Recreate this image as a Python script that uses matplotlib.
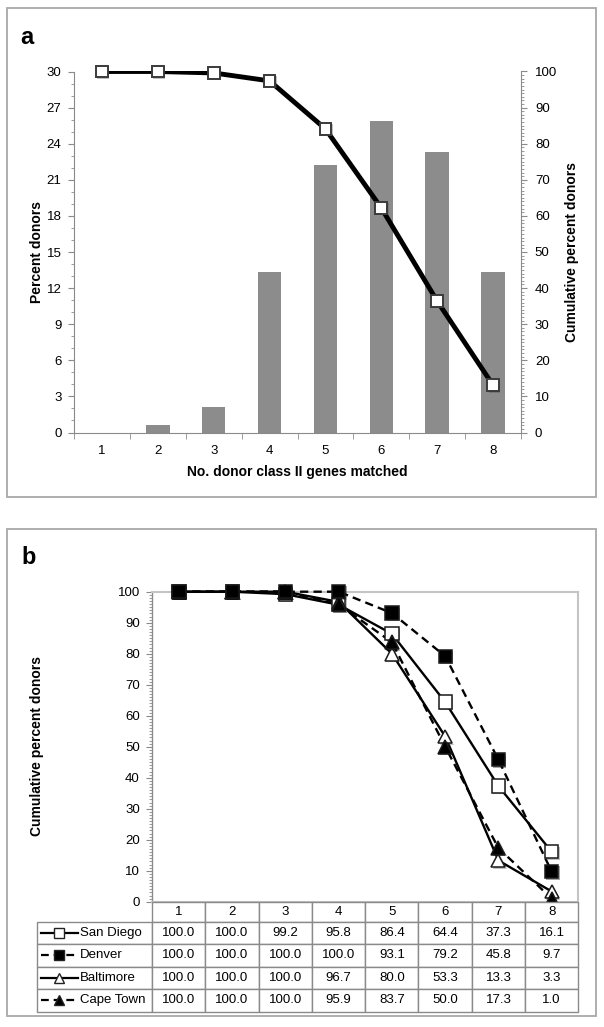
## 0.1 imports
import numpy as np
import matplotlib
matplotlib.use('Agg')
import matplotlib.pyplot as plt
import matplotlib.patheffects as pe
from matplotlib.patches import Rectangle
from matplotlib.ticker import MultipleLocator

plt.rcParams['font.family'] = ['Liberation Sans', 'DejaVu Sans']

## 0.2 data
genes_matched = [1, 2, 3, 4, 5, 6, 7, 8]
percent_donors = [0.0, 0.6, 2.1, 13.3, 22.2, 25.9, 23.3, 13.3]
cumulative_pct = [100.0, 100.0, 99.6, 97.4, 84.1, 62.2, 36.4, 13.1]

cities = ['San Diego', 'Denver', 'Baltimore', 'Cape Town']
san_diego = [100.0, 100.0, 99.2, 95.8, 86.4, 64.4, 37.3, 16.1]
denver    = [100.0, 100.0, 100.0, 100.0, 93.1, 79.2, 45.8, 9.7]
baltimore = [100.0, 100.0, 100.0, 96.7, 80.0, 53.3, 13.3, 3.3]
cape_town = [100.0, 100.0, 100.0, 95.9, 83.7, 50.0, 17.3, 1.0]
city_values = [san_diego, denver, baltimore, cape_town]

## 0.3 styles
W, H = 604, 1027
bar_color = '#8c8c8c'
axis_gray = '#8a8a8a'
city_styles = {
    'San Diego': dict(ls='-',  marker='s', mfc='white', ms=9.5),
    'Denver':    dict(ls=(0, (3.5, 2.2)), marker='s', mfc='black', ms=9.5),
    'Baltimore': dict(ls='-',  marker='^', mfc='white', ms=10),
    'Cape Town': dict(ls=(0, (3.5, 2.2)), marker='^', mfc='black', ms=10),
}
draw_order = ['San Diego', 'Baltimore', 'Cape Town', 'Denver']
shadow = [pe.SimplePatchShadow(offset=(1, -1), alpha=0.35), pe.Normal()]


def px_axes(left, top, right, bottom):
    return fig.add_axes([left / W, 1 - bottom / H, (right - left) / W, (bottom - top) / H])


def px_box(left, top, right, bottom):
    fig.add_artist(Rectangle((left / W, 1 - bottom / H), (right - left) / W, (bottom - top) / H,
                             transform=fig.transFigure, fill=False, ec='#a8a8a8', lw=1.3))


fig = plt.figure(figsize=(W / 100, H / 100), dpi=100)

## 1. panel a
px_box(7, 8, 596, 497)
fig.text(27 / W, 1 - 38 / H, 'a', fontsize=17, fontweight='bold', ha='center', va='center')

ax1 = px_axes(74, 71.5, 521, 432.5)
ax1.bar(genes_matched, percent_donors, width=0.42, color=bar_color, zorder=2)
ax1.set_xlim(0.5, 8.5)
ax1.set_ylim(0, 30)
ax1.yaxis.set_major_locator(MultipleLocator(3))
ax1.yaxis.set_minor_locator(MultipleLocator(1))
ax1.set_xticks(genes_matched)
ax1.set_xticks(np.arange(0.5, 9.0, 1.0), minor=True)
ax1.tick_params(axis='x', which='major', length=0, pad=9, labelsize=9.5)
ax1.tick_params(axis='x', which='minor', length=4, color=axis_gray)
ax1.tick_params(axis='y', which='major', length=4, color=axis_gray, pad=5, labelsize=9.5)
ax1.tick_params(axis='y', which='minor', length=2.5, color=axis_gray)
for s in ['top', 'right']:
    ax1.spines[s].set_visible(False)
for s in ['left', 'bottom']:
    ax1.spines[s].set_color(axis_gray)
ax1.set_xlabel('No. donor class II genes matched', fontsize=10, fontweight='bold', labelpad=6)

ax2 = ax1.twinx()
ax2.plot(genes_matched, cumulative_pct, color='black', lw=3.5, zorder=3)
ax2.plot(genes_matched, cumulative_pct, ls='none', marker='s', ms=8.5, mfc='white',
         mec='#3a3a3a', mew=1.4, zorder=4, path_effects=shadow, clip_on=False)
ax2.set_ylim(0, 100)
ax2.yaxis.set_major_locator(MultipleLocator(10))
ax2.yaxis.set_minor_locator(MultipleLocator(1))
ax2.tick_params(axis='y', which='major', length=4, color=axis_gray, pad=6, labelsize=9.5)
ax2.tick_params(axis='y', which='minor', length=2.5, color=axis_gray)
for s in ['top', 'left', 'bottom']:
    ax2.spines[s].set_visible(False)
ax2.spines['right'].set_color(axis_gray)

fig.text(37 / W, 1 - 252 / H, 'Percent donors', rotation=90, fontsize=10,
         fontweight='bold', ha='center', va='center')
fig.text(572 / W, 1 - 252 / H, 'Cumulative percent donors', rotation=90, fontsize=10,
         fontweight='bold', ha='center', va='center')

## 2. panel b
px_box(7, 529, 596, 1016)
fig.text(29 / W, 1 - 558 / H, 'b', fontsize=17, fontweight='bold', ha='center', va='center')

ax3 = px_axes(152.3, 591.7, 578.3, 901.7)
for name in draw_order:
    st = city_styles[name]
    vals = city_values[cities.index(name)]
    ax3.plot(genes_matched, vals, color='black', lw=1.7, ls=st['ls'], clip_on=False, zorder=3)
    ax3.plot(genes_matched, vals, ls='none', marker=st['marker'], ms=st['ms'], mfc=st['mfc'],
             mec='#1a1a1a', mew=1.1, clip_on=False, path_effects=shadow, zorder=4)
ax3.set_xlim(0.5, 8.5)
ax3.set_ylim(0, 100)
ax3.yaxis.set_major_locator(MultipleLocator(10))
ax3.yaxis.set_minor_locator(MultipleLocator(1))
ax3.set_xticks([])
ax3.tick_params(axis='y', which='major', length=4, color=axis_gray, pad=5, labelsize=9.5)
ax3.tick_params(axis='y', which='minor', length=2.5, color=axis_gray)
for s in ax3.spines.values():
    s.set_color('#c4c4c4')
    s.set_linewidth(1.5)
ax3.spines['left'].set_color(axis_gray)
ax3.spines['left'].set_linewidth(1.0)
fig.text(37 / W, 1 - 746 / H, 'Cumulative percent donors', rotation=90, fontsize=10,
         fontweight='bold', ha='center', va='center')

## 3. data table under panel b (first column holds the legend keys)
tw, th = 541.6, 110.0
head_h, row_h = 20.0, 22.5
label_w, col_w = 115.4, 53.25
ax_t = px_axes(36.7, 901.7, 578.3, 1011.7)
ax_t.set_xlim(0, tw)
ax_t.set_ylim(th, 0)
ax_t.axis('off')
cell_text = [[''] + [f'{v:.1f}' for v in row] for row in city_values]
tbl = ax_t.table(cellText=cell_text, colLabels=[''] + [str(g) for g in genes_matched],
                 colWidths=[label_w / tw] + [col_w / tw] * len(genes_matched),
                 cellLoc='center', bbox=[0, 0, 1, 1])
tbl.auto_set_font_size(False)
tbl.set_fontsize(9.5)
for (r, c), cell in tbl.get_celld().items():
    cell.set_edgecolor('#8a8a8a')
    cell.set_linewidth(1.0)
    cell.set_height((head_h if r == 0 else row_h) / th)
tbl[0, 0].visible_edges = ''

for i, name in enumerate(cities):
    st = city_styles[name]
    y = head_h + row_h * (i + 0.5)
    ax_t.plot([4, 22.6, 41.3], [y, y, y], color='black', lw=1.6, ls=st['ls'],
              marker=st['marker'], markevery=[1], ms=st['ms'] * 0.75, mfc=st['mfc'],
              mec='#222222', mew=1.0, clip_on=False)
    ax_t.text(43.5, y, name, fontsize=9.5, ha='left', va='center')

## 4. save
plt.savefig('out.png', dpi=100)
plt.close(fig)
